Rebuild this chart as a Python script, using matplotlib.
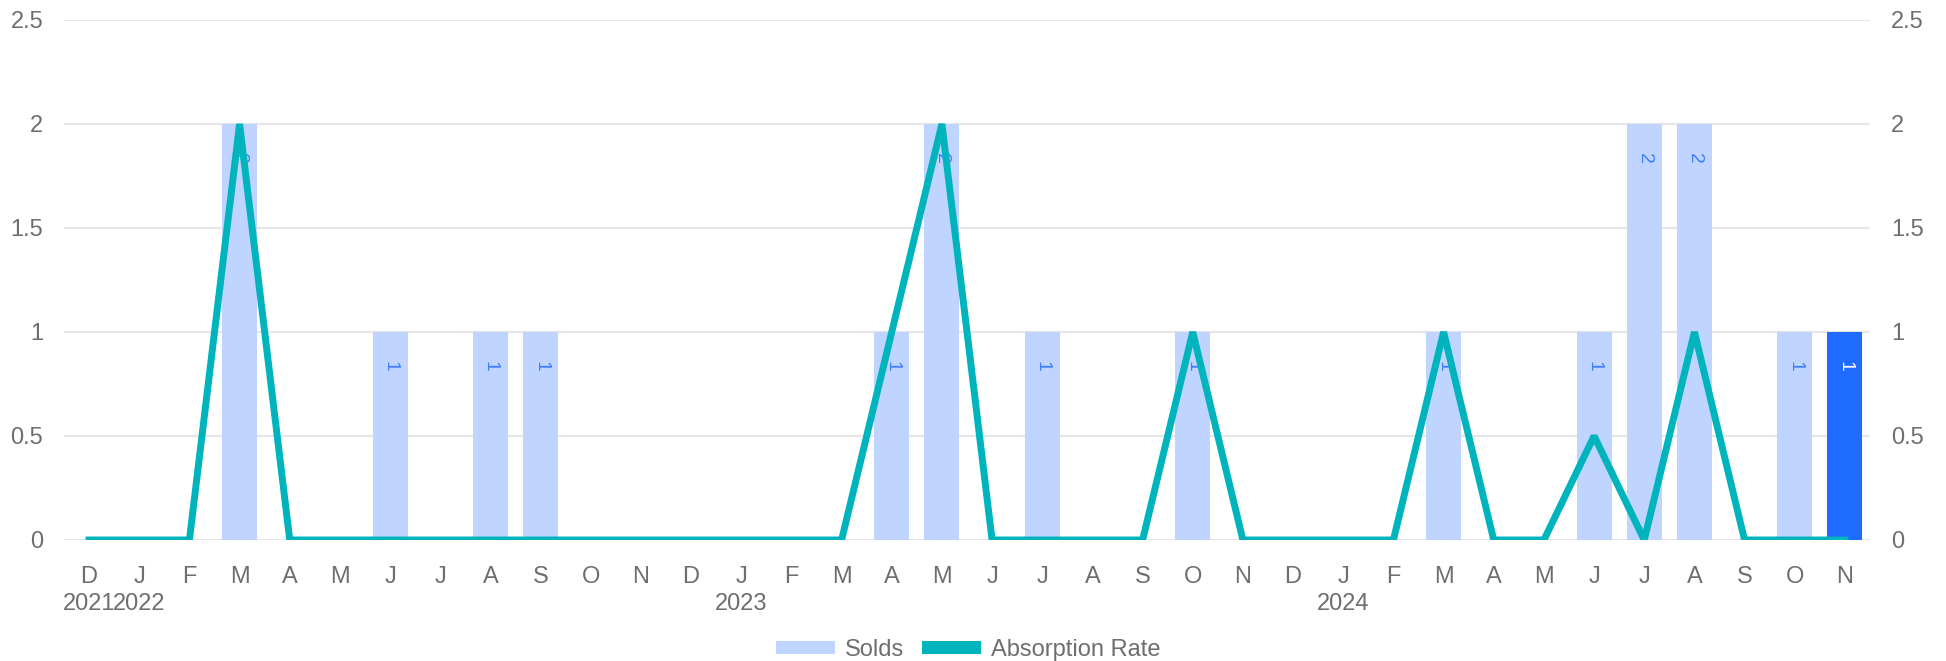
import matplotlib
matplotlib.use("Agg")
import matplotlib.pyplot as plt
from matplotlib.patches import Patch
from matplotlib.transforms import blended_transform_factory

plt.rcParams['font.family'] = ['Liberation Sans', 'DejaVu Sans']

months = ['D', 'J', 'F', 'M', 'A', 'M', 'J', 'J', 'A', 'S', 'O', 'N',
          'D', 'J', 'F', 'M', 'A', 'M', 'J', 'J', 'A', 'S', 'O', 'N',
          'D', 'J', 'F', 'M', 'A', 'M', 'J', 'J', 'A', 'S', 'O', 'N']
year_positions = [0, 1, 13, 25]
year_labels = ['2021', '2022', '2023', '2024']
solds = [0, 0, 0, 2, 0, 0, 1, 0, 1, 1, 0, 0,
         0, 0, 0, 0, 1, 2, 0, 1, 0, 0, 1, 0,
         0, 0, 0, 1, 0, 0, 1, 2, 2, 0, 1, 1]
absorption = [0, 0, 0, 2, 0, 0, 0, 0, 0, 0, 0, 0,
              0, 0, 0, 0, 1, 2, 0, 0, 0, 0, 1, 0,
              0, 0, 0, 1, 0, 0, 0.5, 0, 1, 0, 0, 0]
y_ticks = [0, 0.5, 1, 1.5, 2, 2.5]
y_tick_labels = ['0', '0.5', '1', '1.5', '2', '2.5']

BAR = '#bfd4ff'
BAR_HI = '#1f6bff'
LINE = '#00b4be'
LABEL = '#3f7cff'
TXT = '#6e6e6e'
GRID = '#e6e6e6'

fig = plt.figure(figsize=(19.46, 6.61), dpi=100)
ax = fig.add_axes([64 / 1946, 1 - 540 / 661, (1870 - 64) / 1946, (540 - 20) / 661])

x = list(range(len(months)))
colors = [BAR] * len(months)
colors[-1] = BAR_HI
bars = ax.bar(x, solds, width=0.7, color=colors, zorder=2)

for i, v in enumerate(solds):
    if v > 0:
        ax.annotate(str(v), xy=(i, v), xytext=(0, -34 * 0.72), textcoords='offset points',
                    rotation=-90, ha='center', va='center', fontsize=14,
                    color='white' if i == len(solds) - 1 else LABEL, zorder=3)

ax.plot(x, absorption, color=LINE, lw=5, zorder=4, solid_joinstyle='bevel')

ax.set_xlim(-0.5, len(months) - 0.5)
ax.set_ylim(0, 2.5)
ax.set_yticks(y_ticks)
ax.set_yticklabels(y_tick_labels)
ax.yaxis.grid(True, color=GRID, lw=1.5, zorder=0)
ax.set_axisbelow(True)
for s in ax.spines.values():
    s.set_visible(False)
ax.tick_params(axis='y', length=0, pad=15, labelsize=17, labelcolor=TXT)
ax.set_xticks(x)
ax.set_xticklabels(months)
ax.tick_params(axis='x', length=0, pad=19, labelsize=17, labelcolor=TXT)

ax2 = ax.twinx()
ax2.set_ylim(0, 2.5)
ax2.set_yticks(y_ticks)
ax2.set_yticklabels(y_tick_labels)
for s in ax2.spines.values():
    s.set_visible(False)
ax2.tick_params(axis='y', length=0, pad=15, labelsize=17, labelcolor=TXT)

trans = blended_transform_factory(ax.transData, fig.transFigure)
for p, lab in zip(year_positions, year_labels):
    fig.text(p, 1 - 604 / 661, lab, transform=trans, ha='center', va='center',
             fontsize=17, color=TXT)

handles = [Patch(facecolor=BAR, edgecolor='none', label='Solds'),
           Patch(facecolor=LINE, edgecolor='none', label='Absorption Rate')]
fig.legend(handles=handles, loc='center', bbox_to_anchor=(968 / 1946, 1 - 650 / 661),
           ncol=2, frameon=False, fontsize=17, labelcolor=TXT,
           handlelength=2.5, handleheight=0.45, handletextpad=0.43, columnspacing=0.74)

fig.savefig('out.png', dpi=100)
